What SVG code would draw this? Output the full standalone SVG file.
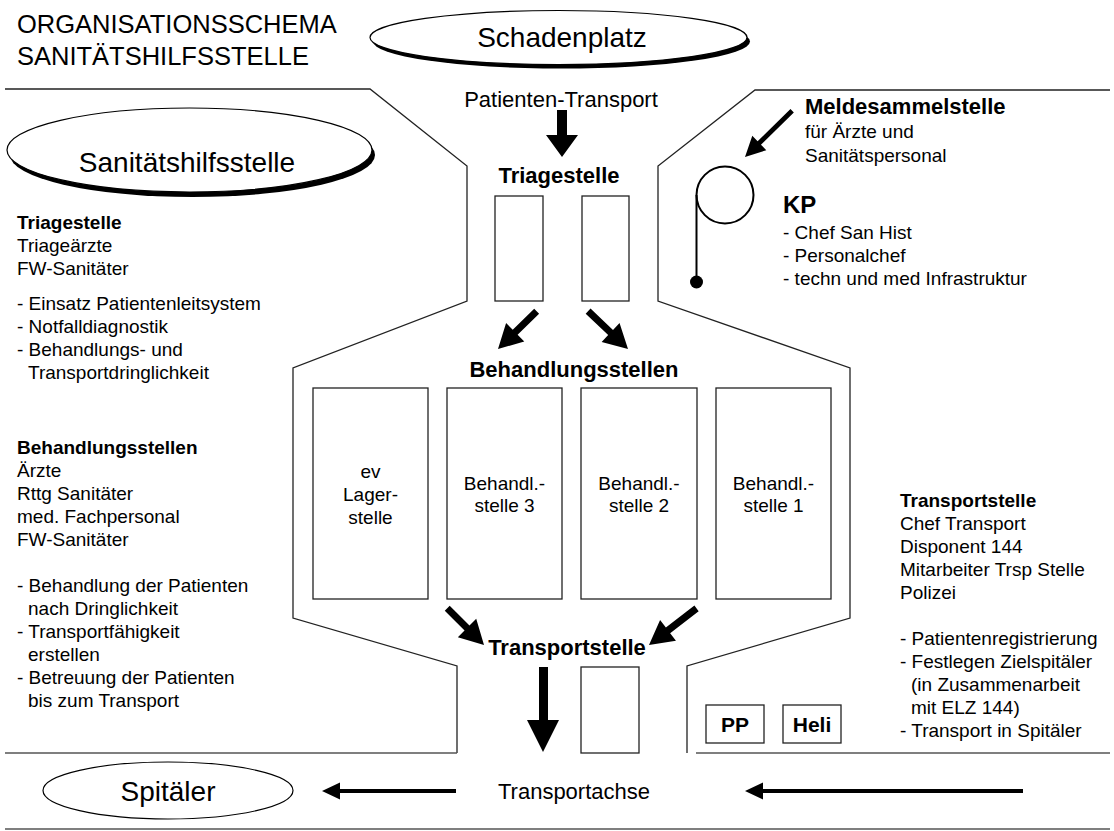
<svg xmlns="http://www.w3.org/2000/svg" width="1114" height="831" viewBox="0 0 1114 831">
<style>
text{font-family:"Liberation Sans",Arial,Helvetica,sans-serif;fill:#000}
.t19{font-size:19px}
.b19{font-size:19px;font-weight:bold}
.b22{font-size:22px;font-weight:bold}
.r22{font-size:22px}
.r28{font-size:28px}
.mid{text-anchor:middle}
.line{fill:none;stroke:#222;stroke-width:1.3}
.band{fill:none;stroke:#555;stroke-width:1.6}
.box{fill:#fff;stroke:#222;stroke-width:1.3}
.ell{fill:#fff;stroke:#000;stroke-width:1.2}
.arr{fill:#000;stroke:none}
</style>

<g id="title">
<text x="17" y="33" style="font-size:25.5px">ORGANISATIONSSCHEMA</text>
<text x="17" y="65" style="font-size:25.5px">SANITÄTSHILFSSTELLE</text>
</g>

<g id="boundaries">
<path class="line" d="M5,89 L370,89 L467,166 L467,301 L293,368 L293,618 L457,666 L457,753"/>
<path class="band" d="M457,753 L5,753"/>
<path class="line" d="M1110,90 L755,90 L658,166 L658,301 L850,368 L850,618 L687,666 L687,753"/>
<path class="band" d="M696,753 L1110,753"/>
<path class="band" d="M5,829 L1110,829"/>
</g>

<g id="schadenplatz">
<ellipse cx="561.5" cy="41.5" rx="188.5" ry="27" fill="#000"/>
<ellipse class="ell" cx="558.5" cy="37.5" rx="188.5" ry="27"/>
<text class="r28 mid" x="562" y="47">Schadenplatz</text>
</g>

<g id="sanitaetshilfsstelle">
<ellipse cx="192.5" cy="155" rx="182.5" ry="42" fill="#000"/>
<ellipse class="ell" cx="189.5" cy="150" rx="182.5" ry="42"/>
<text class="r28 mid" x="187" y="172">Sanitätshilfsstelle</text>
</g>

<g id="spitaeler">
<ellipse class="ell" cx="168" cy="790.5" rx="125" ry="28.5"/>
<text class="r28 mid" x="168" y="801">Spitäler</text>
</g>

<g id="patienten-transport">
<text class="r22 mid" x="561" y="107">Patienten-Transport</text>
</g>

<g id="triagestelle">
<text class="b22 mid" x="559" y="183">Triagestelle</text>
<rect class="box" x="495" y="196" width="48" height="105"/>
<rect class="box" x="582" y="196" width="47" height="105"/>
</g>

<g id="behandlungsstellen">
<text class="b22 mid" x="574" y="377">Behandlungsstellen</text>
</g>

<g id="lagerstelle">
<rect class="box" x="313" y="388" width="115" height="211"/>
<text class="t19 mid" x="370.5" y="478">ev</text>
<text class="t19 mid" x="370.5" y="501">Lager-</text>
<text class="t19 mid" x="370.5" y="524">stelle</text>
</g>
<g id="behandlungsstelle-3">
<rect class="box" x="447" y="388" width="115" height="211"/>
<text class="t19 mid" x="504.5" y="490">Behandl.-</text>
<text class="t19 mid" x="504.5" y="512">stelle 3</text>
</g>
<g id="behandlungsstelle-2">
<rect class="box" x="581" y="388" width="116" height="211"/>
<text class="t19 mid" x="639" y="490">Behandl.-</text>
<text class="t19 mid" x="639" y="512">stelle 2</text>
</g>
<g id="behandlungsstelle-1">
<rect class="box" x="716" y="388" width="115" height="211"/>
<text class="t19 mid" x="773.5" y="490">Behandl.-</text>
<text class="t19 mid" x="773.5" y="512">stelle 1</text>
</g>

<g id="transportstelle">
<text class="b22 mid" x="567" y="655">Transportstelle</text>
<rect class="box" x="581" y="667" width="58" height="86"/>
</g>

<g id="pp">
<rect class="box" x="706" y="705" width="58" height="38"/>
<text class="mid" x="735" y="732" style="font-size:21px;font-weight:bold">PP</text>
</g>
<g id="heli">
<rect class="box" x="783" y="705" width="58" height="38"/>
<text class="mid" x="812" y="732" style="font-size:21px;font-weight:bold">Heli</text>
</g>

<g id="transportachse">
<text class="r22 mid" x="574" y="799">Transportachse</text>
</g>

<g id="kp">
<circle cx="725" cy="195" r="28.5" fill="none" stroke="#000" stroke-width="2"/>
<path d="M696.5,195 L696.5,282" fill="none" stroke="#000" stroke-width="2"/>
<circle cx="696.5" cy="282" r="6.5" fill="#000"/>
<text x="783" y="213" style="font-size:24px;font-weight:bold">KP</text>
<text class="t19" x="783" y="239">- Chef San Hist</text>
<text class="t19" x="783" y="262">- Personalchef</text>
<text class="t19" x="783" y="285">- techn und med Infrastruktur</text>
</g>

<g id="meldesammelstelle">
<text class="b22" x="805" y="114">Meldesammelstelle</text>
<text class="t19" x="805" y="138">für Ärzte und</text>
<text class="t19" x="805" y="162">Sanitätspersonal</text>
</g>

<g id="legend-triagestelle">
<text class="b19" x="17" y="229">Triagestelle</text>
<text class="t19" x="17" y="252">Triageärzte</text>
<text class="t19" x="17" y="275">FW-Sanitäter</text>
<text class="t19" x="17" y="310">- Einsatz Patientenleitsystem</text>
<text class="t19" x="17" y="333">- Notfalldiagnostik</text>
<text class="t19" x="17" y="356">- Behandlungs- und</text>
<text class="t19" x="28" y="379">Transportdringlichkeit</text>
</g>

<g id="legend-behandlungsstellen">
<text class="b19" x="17" y="454">Behandlungsstellen</text>
<text class="t19" x="17" y="477">Ärzte</text>
<text class="t19" x="17" y="500">Rttg Sanitäter</text>
<text class="t19" x="17" y="523">med. Fachpersonal</text>
<text class="t19" x="17" y="546">FW-Sanitäter</text>
<text class="t19" x="17" y="592">- Behandlung der Patienten</text>
<text class="t19" x="28" y="615">nach Dringlichkeit</text>
<text class="t19" x="17" y="638">- Transportfähigkeit</text>
<text class="t19" x="28" y="661">erstellen</text>
<text class="t19" x="17" y="684">- Betreuung der Patienten</text>
<text class="t19" x="28" y="707">bis zum Transport</text>
</g>

<g id="legend-transportstelle">
<text class="b19" x="900" y="507">Transportstelle</text>
<text class="t19" x="900" y="530">Chef Transport</text>
<text class="t19" x="900" y="553">Disponent 144</text>
<text class="t19" x="900" y="576">Mitarbeiter Trsp Stelle</text>
<text class="t19" x="900" y="599">Polizei</text>
<text class="t19" x="900" y="645">- Patientenregistrierung</text>
<text class="t19" x="900" y="668">- Festlegen Zielspitäler</text>
<text class="t19" x="911" y="691">(in Zusammenarbeit</text>
<text class="t19" x="911" y="714">mit ELZ 144)</text>
<text class="t19" x="900" y="737">- Transport in Spitäler</text>
</g>

<g id="connectors">
<path class="arr" d="M557,110 L567,110 L567,135 L578,135 L562,157 L546,135 L557,135 Z"/>
<path class="arr" transform="translate(498,349) rotate(135.7)" d="M-54,-3.5 L-24,-3.5 L-24,-13 L0,0 L-24,13 L-24,3.5 L-54,3.5 Z"/>
<path class="arr" transform="translate(628,349) rotate(43.5)" d="M-55,-3.5 L-24,-3.5 L-24,-13 L0,0 L-24,13 L-24,3.5 L-55,3.5 Z"/>
<path class="arr" transform="translate(484,645) rotate(45)" d="M-52,-3.5 L-24,-3.5 L-24,-13 L0,0 L-24,13 L-24,3.5 L-52,3.5 Z"/>
<path class="arr" transform="translate(649,645) rotate(142.4)" d="M-60,-3.5 L-24,-3.5 L-24,-13 L0,0 L-24,13 L-24,3.5 L-60,3.5 Z"/>
<path class="arr" transform="translate(745,157) rotate(135.6)" d="M-66,-2.4 L-20,-2.4 L-20,-10 L0,0 L-20,10 L-20,2.4 L-66,2.4 Z"/>
<path class="arr" d="M539,667 L548,667 L548,720 L559,720 L543,752 L527,720 L539,720 Z"/>
<path class="arr" d="M456,789 L340,789 L340,782.5 L322,791 L340,799.5 L340,793 L456,793 Z"/>
<path class="arr" d="M1023,789 L763,789 L763,782.5 L745,791 L763,799.5 L763,793 L1023,793 Z"/>
</g>
</svg>
